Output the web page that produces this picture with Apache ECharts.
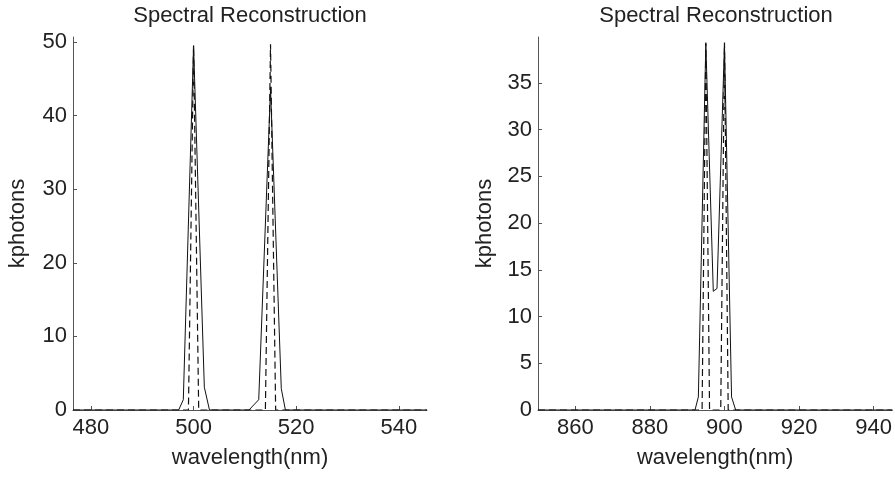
<!DOCTYPE html>
<html>
<head>
<meta charset="utf-8">
<script src="https://cdn.jsdelivr.net/npm/echarts@6/dist/echarts.min.js"></script>
<style>
html,body{margin:0;padding:0;background:#fff;}
#c{width:895px;height:477px;}
</style>
</head>
<body>
<div id="c"></div>
<script>
// ---- Data ----
const titleText = "Spectral Reconstruction";
const xLabel = "wavelength(nm)";
const yLabel = "kphotons";

// Left panel: reconstruction (solid) and original (dashed)
const leftRecWl  = [476.5, 497.1, 498.0, 500.0, 502.1, 503.1, 510.8, 512.7, 515.0, 517.1, 517.9, 545.5];
const leftRecVal = [0,     0,     1.4,   49.5,  3.1,   0,     0,     1.4,   43.7,  2.9,   0,     0];
const leftOrigWl  = [476.5, 499.0, 500.0, 501.0, 514.0, 515.0, 516.0, 545.5];
const leftOrigVal = [0,     0,     49.6,  0,     0,     49.7,  0,     0];
const leftXTicks = [480, 500, 520, 540];
const leftYTicks = [0, 10, 20, 30, 40, 50];

// Right panel
const rightRecWl  = [850, 892.1, 893.0, 895.0, 897.0, 898.0, 900.0, 901.9, 903.0, 945];
const rightRecVal = [0,   0,     1.4,   39.2,  12.7,  13.0,  39.2,  1.4,   0,     0];
const rightOrigWl  = [850, 894.0, 895.0, 896.0, 899.0, 900.0, 901.0, 945];
const rightOrigVal = [0,   0,     39.3,  0,     0,     39.3,  0,     0];
const rightXTicks = [860, 880, 900, 920, 940];
const rightYTicks = [0, 5, 10, 15, 20, 25, 30, 35];

// ---- Chart ----
const pairs = (xs, ys) => xs.map((x, i) => [x, ys[i]]);
const FONT = "Liberation Sans, Arial, Helvetica, sans-serif";
const TXT = "#222";
const AX = "#555";
const FS = 22;

function xAxis(gi, min, max, ticks) {
  return {
    type: 'value', gridIndex: gi, min: min, max: max,
    name: xLabel, nameLocation: 'middle', nameGap: 37,
    nameTextStyle: {color: TXT, fontFamily: FONT, fontSize: FS},
    axisLine: {show: true, onZero: false, lineStyle: {color: AX, width: 1}},
    axisTick: {show: true, inside: true, length: 4, customValues: ticks, lineStyle: {color: AX}},
    axisLabel: {customValues: ticks, color: TXT, fontFamily: FONT, fontSize: FS, margin: 7},
    splitLine: {show: false}
  };
}
function yAxis(gi, max, ticks, gap) {
  return {
    type: 'value', gridIndex: gi, min: 0, max: max,
    name: yLabel, nameLocation: 'middle', nameGap: gap, nameRotate: 90,
    nameTextStyle: {color: TXT, fontFamily: FONT, fontSize: FS},
    axisLine: {show: true, lineStyle: {color: AX, width: 1}},
    axisTick: {show: true, inside: true, length: 4, customValues: ticks, lineStyle: {color: AX}},
    axisLabel: {customValues: ticks, color: TXT, fontFamily: FONT, fontSize: FS, margin: 6},
    splitLine: {show: false}
  };
}
function line(gi, data, dashed) {
  return {
    type: 'line', xAxisIndex: gi, yAxisIndex: gi, data: data,
    showSymbol: false, symbol: 'none', silent: true,
    lineStyle: {color: '#111', width: dashed ? 1.2 : 1, type: dashed ? [7, 4] : 'solid'},
    z: dashed ? 3 : 2
  };
}

const chart = echarts.init(document.getElementById('c'), null, {renderer: 'canvas'});
chart.setOption({
  animation: false,
  backgroundColor: '#fff',
  title: [
    {text: titleText, left: 245, top: 0, textAlign: 'center',
     textStyle: {color: TXT, fontFamily: FONT, fontSize: FS, fontWeight: 'normal'}},
    {text: titleText, left: 711, top: 0, textAlign: 'center',
     textStyle: {color: TXT, fontFamily: FONT, fontSize: FS, fontWeight: 'normal'}}
  ],
  grid: [
    {left: 73, right: 468, top: 37, bottom: 67},
    {left: 538, right: 2, top: 37, bottom: 67}
  ],
  xAxis: [xAxis(0, 476.5, 545.5, leftXTicks), xAxis(1, 850, 945, rightXTicks)],
  yAxis: [yAxis(0, 50.7, leftYTicks, 44), yAxis(1, 39.9, rightYTicks, 42)],
  series: [
    line(0, pairs(leftRecWl, leftRecVal), false),
    line(0, pairs(leftOrigWl, leftOrigVal), true),
    line(1, pairs(rightRecWl, rightRecVal), false),
    line(1, pairs(rightOrigWl, rightOrigVal), true)
  ]
});
</script>
</body>
</html>
